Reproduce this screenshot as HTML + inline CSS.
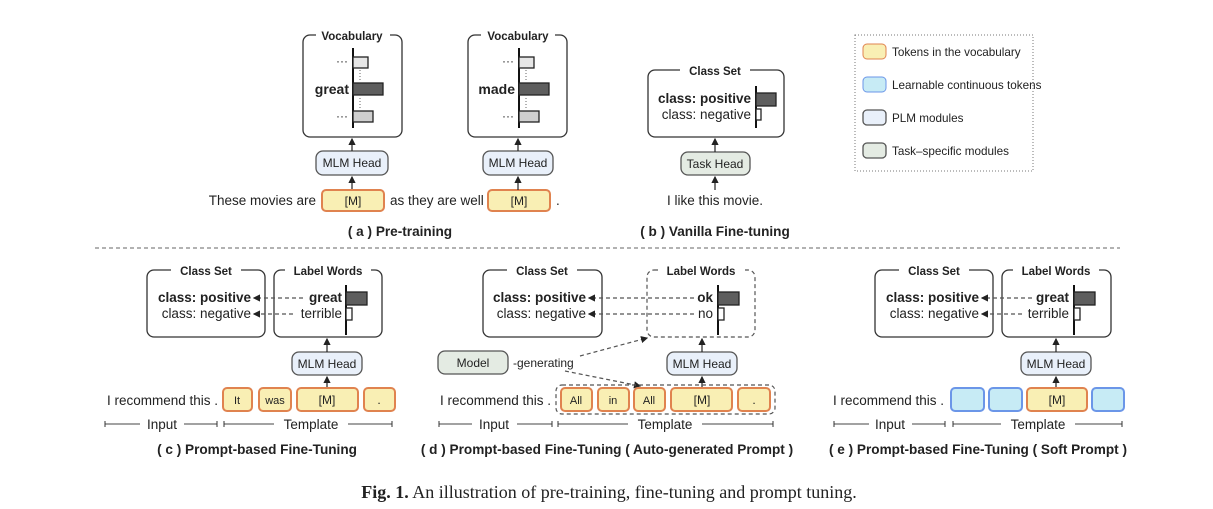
<!DOCTYPE html>
<html><head><meta charset="utf-8"><style>
html,body{margin:0;padding:0;background:#fff;}
svg{display:block;}
text{font-family:"Liberation Sans",sans-serif;fill:#222;}
.b{font-weight:bold;}
.t{font-size:13.5px;}
.s{font-size:12px;}
.c{font-size:13.5px;}
.cap{font-size:13.6px;font-weight:bold;}
.tk{fill:#f9efb4;stroke:#e0834f;stroke-width:2;}
.bl{fill:#c7ebf5;stroke:#6b96e8;stroke-width:2;}
.plm{fill:#e9f0fa;stroke:#555;stroke-width:1.3;}
.task{fill:#e4ebe3;stroke:#555;stroke-width:1.3;}
.box{fill:#fff;stroke:#333;stroke-width:1.3;}
.dash{fill:none;stroke:#555;stroke-width:1.2;stroke-dasharray:4 3;}
.ln{stroke:#222;stroke-width:1.2;}
.ax{stroke:#111;stroke-width:2;}
</style></head><body>
<svg width="1213" height="509" viewBox="0 0 1213 509" xmlns="http://www.w3.org/2000/svg">
<defs>
<marker id="ar" markerWidth="6" markerHeight="6" refX="5" refY="3" orient="auto"><path d="M0,0 L6,3 L0,6 z" fill="#222"/></marker>
<marker id="tk" markerWidth="2" markerHeight="6" refX="1" refY="3" orient="auto"><path d="M1,0 L1,6" stroke="#333" stroke-width="1"/></marker>
</defs>

<!-- (a) -->
<rect class="box" x="303" y="35" width="99" height="102" rx="7"/>
<rect x="316" y="28" width="74" height="14" fill="#fff"/>
<text class="b" x="352" y="40" font-size="11.5" text-anchor="middle">Vocabulary</text>
<line class="ax" x1="353" y1="48" x2="353" y2="128"/>
<rect x="353" y="57" width="15" height="11" fill="#e6e6e6" stroke="#222" stroke-width="1.3"/>
<rect x="353" y="83" width="30" height="12" fill="#5e5e5e" stroke="#222" stroke-width="1.3"/>
<rect x="353" y="111" width="20" height="11" fill="#cfcfcf" stroke="#222" stroke-width="1.3"/>
<line x1="360" y1="70" x2="360" y2="80" stroke="#666" stroke-dasharray="1 2"/>
<line x1="360" y1="98" x2="360" y2="108" stroke="#666" stroke-dasharray="1 2"/>
<text x="348" y="65" class="s" text-anchor="end" fill="#555">···</text>
<text x="349" y="94" font-size="14" class="b" text-anchor="end">great</text>
<text x="348" y="120" class="s" text-anchor="end" fill="#555">···</text>
<rect class="plm" x="316" y="151" width="72" height="24" rx="7"/>
<text x="352" y="167" class="s" text-anchor="middle">MLM Head</text>
<line class="ln" x1="352" y1="151" x2="352" y2="139" marker-end="url(#ar)"/>
<line class="ln" x1="352" y1="190" x2="352" y2="177" marker-end="url(#ar)"/>
<rect class="tk" x="322" y="190" width="62" height="21" rx="4"/>
<text x="353" y="205" class="s" text-anchor="middle" fill="#444">[M]</text>
<text x="316" y="205" class="t" text-anchor="end">These movies are</text>
<text x="390" y="205" class="t">as they are well</text>
<rect class="tk" x="488" y="190" width="62" height="21" rx="4"/>
<text x="519" y="205" class="s" text-anchor="middle" fill="#444">[M]</text>
<text x="556" y="205" class="t">.</text>

<rect class="box" x="468" y="35" width="99" height="102" rx="7"/>
<rect x="481" y="28" width="74" height="14" fill="#fff"/>
<text class="b" x="518" y="40" font-size="11.5" text-anchor="middle">Vocabulary</text>
<line class="ax" x1="519" y1="48" x2="519" y2="128"/>
<rect x="519" y="57" width="15" height="11" fill="#e6e6e6" stroke="#222" stroke-width="1.3"/>
<rect x="519" y="83" width="30" height="12" fill="#5e5e5e" stroke="#222" stroke-width="1.3"/>
<rect x="519" y="111" width="20" height="11" fill="#cfcfcf" stroke="#222" stroke-width="1.3"/>
<line x1="526" y1="70" x2="526" y2="80" stroke="#666" stroke-dasharray="1 2"/>
<line x1="526" y1="98" x2="526" y2="108" stroke="#666" stroke-dasharray="1 2"/>
<text x="514" y="65" class="s" text-anchor="end" fill="#555">···</text>
<text x="515" y="94" font-size="14" class="b" text-anchor="end">made</text>
<text x="514" y="120" class="s" text-anchor="end" fill="#555">···</text>
<rect class="plm" x="483" y="151" width="70" height="24" rx="7"/>
<text x="518" y="167" class="s" text-anchor="middle">MLM Head</text>
<line class="ln" x1="518" y1="151" x2="518" y2="139" marker-end="url(#ar)"/>
<line class="ln" x1="518" y1="190" x2="518" y2="177" marker-end="url(#ar)"/>
<text x="400" y="236" class="cap" text-anchor="middle">( a ) Pre-training</text>

<!-- (b) -->
<rect class="box" x="648" y="70" width="136" height="67" rx="7"/>
<rect x="680" y="63" width="70" height="14" fill="#fff"/>
<text class="b" x="715" y="75" font-size="11.5" text-anchor="middle">Class Set</text>
<line class="ax" x1="756" y1="86" x2="756" y2="128"/>
<rect x="756" y="93" width="20" height="13" fill="#5e5e5e" stroke="#222" stroke-width="1.3"/>
<rect x="756" y="109" width="5" height="11" fill="#fff" stroke="#222" stroke-width="1.3"/>
<text x="751" y="103" class="c b" text-anchor="end">class: positive</text>
<text x="751" y="119" class="c" text-anchor="end">class: negative</text>
<rect class="task" x="681" y="152" width="69" height="23" rx="7"/>
<text x="715" y="168" class="s" text-anchor="middle">Task Head</text>
<line class="ln" x1="715" y1="152" x2="715" y2="139" marker-end="url(#ar)"/>
<line class="ln" x1="715" y1="190" x2="715" y2="177" marker-end="url(#ar)"/>
<text x="715" y="205" class="t" text-anchor="middle">I like this movie.</text>
<text x="715" y="236" class="cap" text-anchor="middle">( b ) Vanilla Fine-tuning</text>

<!-- legend -->
<rect x="855" y="35" width="178" height="136" fill="none" stroke="#777" stroke-dasharray="1 2"/>
<rect class="tk" x="863" y="44" width="23" height="15" rx="4" style="stroke-width:1"/>
<text x="892" y="56" font-size="11.7" fill="#333">Tokens in the vocabulary</text>
<rect class="bl" x="863" y="77" width="23" height="15" rx="4" style="stroke-width:1"/>
<text x="892" y="89" font-size="11.7" fill="#333">Learnable continuous tokens</text>
<rect class="plm" x="863" y="110" width="23" height="15" rx="4"/>
<text x="892" y="122" font-size="11.7" fill="#333">PLM modules</text>
<rect class="task" x="863" y="143" width="23" height="15" rx="4"/>
<text x="892" y="155" font-size="11.7" fill="#333">Task–specific modules</text>

<line x1="95" y1="248" x2="1120" y2="248" stroke="#666" stroke-dasharray="4 3"/>

<!-- (c) -->
<rect class="box" x="147" y="270" width="118" height="67" rx="7"/>
<rect x="171" y="263" width="70" height="14" fill="#fff"/>
<text class="b" x="206" y="275" font-size="11.5" text-anchor="middle">Class Set</text>
<rect class="box" x="274" y="270" width="108" height="67" rx="7"/>
<rect x="285" y="263" width="86" height="14" fill="#fff"/>
<text class="b" x="328" y="275" font-size="11.5" text-anchor="middle">Label Words</text>
<text x="251" y="302" class="c b" text-anchor="end">class: positive</text>
<text x="251" y="318" class="c" text-anchor="end">class: negative</text>
<text x="342" y="302" class="c b" text-anchor="end">great</text>
<text x="342" y="318" class="c" text-anchor="end">terrible</text>
<line class="dash" x1="303" y1="298" x2="254" y2="298" marker-end="url(#ar)"/>
<line class="dash" x1="293" y1="314" x2="254" y2="314" marker-end="url(#ar)"/>
<line class="ax" x1="346" y1="285" x2="346" y2="335"/>
<rect x="346" y="292" width="21" height="13" fill="#5e5e5e" stroke="#222" stroke-width="1.3"/>
<rect x="346" y="308" width="6" height="12" fill="#fff" stroke="#222" stroke-width="1.3"/>
<rect class="plm" x="292" y="352" width="70" height="23" rx="7"/>
<text x="327" y="368" class="s" text-anchor="middle">MLM Head</text>
<line class="ln" x1="327" y1="352" x2="327" y2="339" marker-end="url(#ar)"/>
<line class="ln" x1="327" y1="388" x2="327" y2="377" marker-end="url(#ar)"/>
<text x="218" y="405" class="t" text-anchor="end">I recommend this .</text>
<rect class="tk" x="223" y="388" width="29" height="23" rx="4"/><text x="237" y="404" font-size="11" text-anchor="middle" fill="#444">It</text>
<rect class="tk" x="259" y="388" width="32" height="23" rx="4"/><text x="275" y="404" font-size="11" text-anchor="middle" fill="#444">was</text>
<rect class="tk" x="297" y="388" width="61" height="23" rx="4"/><text x="327" y="404" font-size="12" text-anchor="middle" fill="#444">[M]</text>
<rect class="tk" x="364" y="388" width="31" height="23" rx="4"/><text x="379" y="404" font-size="12" text-anchor="middle" fill="#444">.</text>
<line x1="105" y1="424" x2="140" y2="424" stroke="#444" marker-start="url(#tk)"/>
<text x="162" y="429" class="t" text-anchor="middle">Input</text>
<line x1="184" y1="424" x2="217" y2="424" stroke="#444" marker-end="url(#tk)"/>
<line x1="224" y1="424" x2="274" y2="424" stroke="#444" marker-start="url(#tk)"/>
<text x="311" y="429" class="t" text-anchor="middle">Template</text>
<line x1="348" y1="424" x2="392" y2="424" stroke="#444" marker-end="url(#tk)"/>
<text x="257" y="454" class="cap" text-anchor="middle">( c ) Prompt-based Fine-Tuning</text>

<!-- (d) -->
<rect class="box" x="483" y="270" width="119" height="67" rx="7"/>
<rect x="507" y="263" width="70" height="14" fill="#fff"/>
<text class="b" x="542" y="275" font-size="11.5" text-anchor="middle">Class Set</text>
<rect class="dash" x="647" y="270" width="108" height="67" rx="7"/>
<rect x="658" y="263" width="86" height="14" fill="#fff"/>
<text class="b" x="701" y="275" font-size="11.5" text-anchor="middle">Label Words</text>
<text x="586" y="302" class="c b" text-anchor="end">class: positive</text>
<text x="586" y="318" class="c" text-anchor="end">class: negative</text>
<text x="713" y="302" class="c b" text-anchor="end">ok</text>
<text x="713" y="318" class="c" text-anchor="end">no</text>
<line class="dash" x1="694" y1="298" x2="589" y2="298" marker-end="url(#ar)"/>
<line class="dash" x1="694" y1="314" x2="589" y2="314" marker-end="url(#ar)"/>
<line class="ax" x1="718" y1="285" x2="718" y2="335"/>
<rect x="718" y="292" width="21" height="13" fill="#5e5e5e" stroke="#222" stroke-width="1.3"/>
<rect x="718" y="308" width="6" height="12" fill="#fff" stroke="#222" stroke-width="1.3"/>
<rect class="plm" x="667" y="352" width="70" height="23" rx="7"/>
<text x="702" y="368" class="s" text-anchor="middle">MLM Head</text>
<line class="ln" x1="702" y1="352" x2="702" y2="339" marker-end="url(#ar)"/>
<line class="ln" x1="702" y1="388" x2="702" y2="377" marker-end="url(#ar)"/>
<rect class="task" x="438" y="351" width="70" height="23" rx="7"/>
<text x="473" y="367" class="s" text-anchor="middle">Model</text>
<text x="513" y="367" font-size="12" fill="#333">-generating</text>
<line class="dash" x1="580" y1="356" x2="647" y2="338" marker-end="url(#ar)"/>
<line class="dash" x1="565" y1="371" x2="640" y2="386" marker-end="url(#ar)"/>
<rect class="dash" x="556" y="385" width="219" height="29" rx="6"/>
<text x="551" y="405" class="t" text-anchor="end">I recommend this .</text>
<rect class="tk" x="561" y="388" width="31" height="23" rx="4"/><text x="576" y="404" font-size="11" text-anchor="middle" fill="#444">All</text>
<rect class="tk" x="598" y="388" width="31" height="23" rx="4"/><text x="613" y="404" font-size="11" text-anchor="middle" fill="#444">in</text>
<rect class="tk" x="634" y="388" width="31" height="23" rx="4"/><text x="649" y="404" font-size="11" text-anchor="middle" fill="#444">All</text>
<rect class="tk" x="671" y="388" width="61" height="23" rx="4"/><text x="702" y="404" font-size="12" text-anchor="middle" fill="#444">[M]</text>
<rect class="tk" x="738" y="388" width="32" height="23" rx="4"/><text x="754" y="404" font-size="12" text-anchor="middle" fill="#444">.</text>
<line x1="439" y1="424" x2="472" y2="424" stroke="#444" marker-start="url(#tk)"/>
<text x="494" y="429" class="t" text-anchor="middle">Input</text>
<line x1="517" y1="424" x2="552" y2="424" stroke="#444" marker-end="url(#tk)"/>
<line x1="558" y1="424" x2="628" y2="424" stroke="#444" marker-start="url(#tk)"/>
<text x="665" y="429" class="t" text-anchor="middle">Template</text>
<line x1="702" y1="424" x2="773" y2="424" stroke="#444" marker-end="url(#tk)"/>
<text x="607" y="454" class="cap" text-anchor="middle">( d ) Prompt-based Fine-Tuning ( Auto-generated Prompt )</text>

<!-- (e) -->
<rect class="box" x="875" y="270" width="118" height="67" rx="7"/>
<rect x="899" y="263" width="70" height="14" fill="#fff"/>
<text class="b" x="934" y="275" font-size="11.5" text-anchor="middle">Class Set</text>
<rect class="box" x="1002" y="270" width="109" height="67" rx="7"/>
<rect x="1013" y="263" width="86" height="14" fill="#fff"/>
<text class="b" x="1056" y="275" font-size="11.5" text-anchor="middle">Label Words</text>
<text x="979" y="302" class="c b" text-anchor="end">class: positive</text>
<text x="979" y="318" class="c" text-anchor="end">class: negative</text>
<text x="1069" y="302" class="c b" text-anchor="end">great</text>
<text x="1069" y="318" class="c" text-anchor="end">terrible</text>
<line class="dash" x1="1032" y1="298" x2="982" y2="298" marker-end="url(#ar)"/>
<line class="dash" x1="1022" y1="314" x2="982" y2="314" marker-end="url(#ar)"/>
<line class="ax" x1="1074" y1="285" x2="1074" y2="335"/>
<rect x="1074" y="292" width="21" height="13" fill="#5e5e5e" stroke="#222" stroke-width="1.3"/>
<rect x="1074" y="308" width="6" height="12" fill="#fff" stroke="#222" stroke-width="1.3"/>
<rect class="plm" x="1021" y="352" width="70" height="23" rx="7"/>
<text x="1056" y="368" class="s" text-anchor="middle">MLM Head</text>
<line class="ln" x1="1056" y1="352" x2="1056" y2="339" marker-end="url(#ar)"/>
<line class="ln" x1="1056" y1="388" x2="1056" y2="377" marker-end="url(#ar)"/>
<text x="944" y="405" class="t" text-anchor="end">I recommend this .</text>
<rect class="bl" x="951" y="388" width="33" height="23" rx="4"/>
<rect class="bl" x="989" y="388" width="33" height="23" rx="4"/>
<rect class="tk" x="1027" y="388" width="60" height="23" rx="4"/><text x="1057" y="404" font-size="12" text-anchor="middle" fill="#444">[M]</text>
<rect class="bl" x="1092" y="388" width="32" height="23" rx="4"/>
<line x1="834" y1="424" x2="869" y2="424" stroke="#444" marker-start="url(#tk)"/>
<text x="890" y="429" class="t" text-anchor="middle">Input</text>
<line x1="912" y1="424" x2="945" y2="424" stroke="#444" marker-end="url(#tk)"/>
<line x1="953" y1="424" x2="1001" y2="424" stroke="#444" marker-start="url(#tk)"/>
<text x="1038" y="429" class="t" text-anchor="middle">Template</text>
<line x1="1075" y1="424" x2="1122" y2="424" stroke="#444" marker-end="url(#tk)"/>
<text x="978" y="454" class="cap" text-anchor="middle">( e ) Prompt-based Fine-Tuning ( Soft Prompt )</text>

<text x="609" y="498" text-anchor="middle" font-size="18" style="font-family:'Liberation Serif',serif"><tspan font-weight="bold">Fig. 1.</tspan>  An illustration of pre-training, fine-tuning and prompt tuning.</text>
</svg>
</body></html>
